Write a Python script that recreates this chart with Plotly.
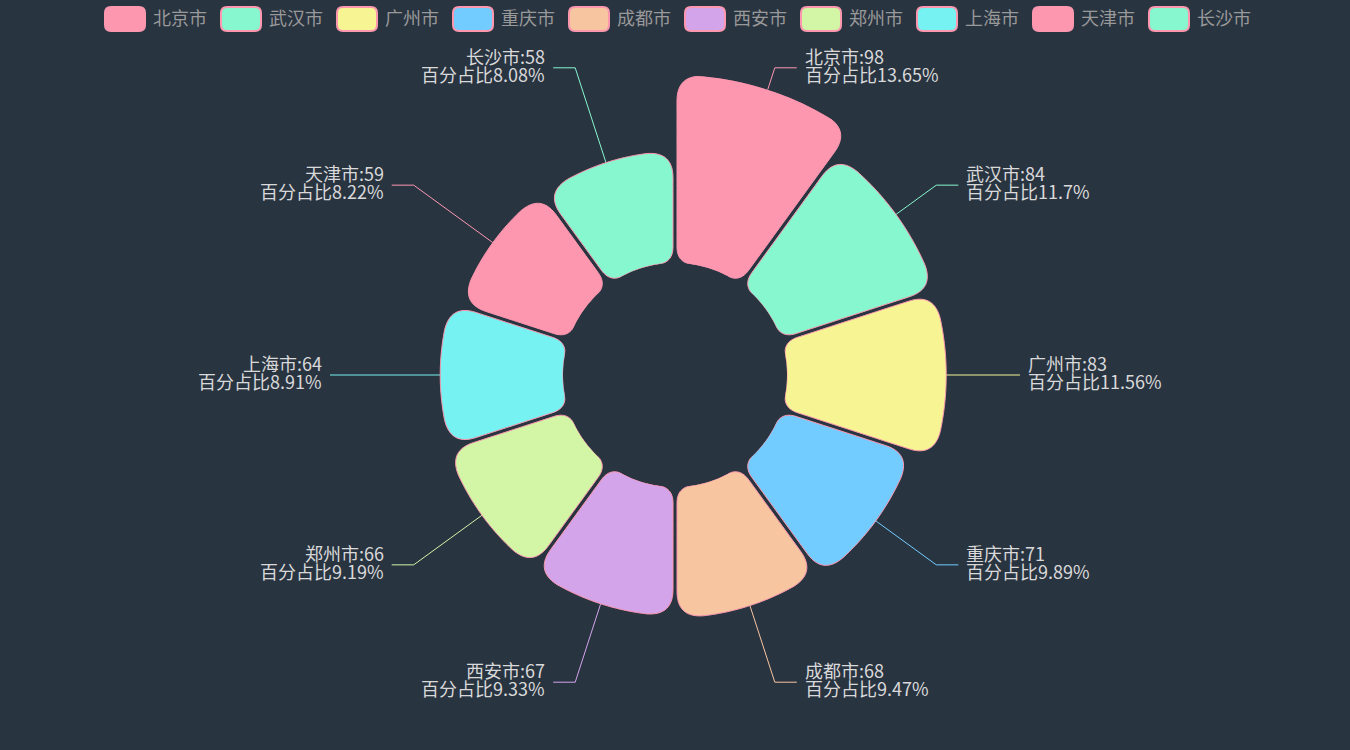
import math
import plotly.graph_objects as go

# ---- data ----
cities = ["北京市", "武汉市", "广州市", "重庆市", "成都市", "西安市", "郑州市", "上海市", "天津市", "长沙市"]
values = [98, 84, 83, 71, 68, 67, 66, 64, 59, 58]
colors = ["#fc97af", "#87f7cf", "#f7f494", "#72ccff", "#f7c5a0",
          "#d4a4eb", "#d2f5a6", "#76f2f2", "#fc97af", "#87f7cf"]

# ---- geometry (pixels) ----
W, H = 1350, 750
CX, CY = 675, 375
R_IN, R_OUT = 112, 300      # radius ['30%', '80%']
GAP = 4                     # gap between petals
RC_OUT, RC_IN = 26, 16      # corner rounding
VMAX = max(values)
BORDER = "#fc97af"
BG = "#293441"
FONT = "Noto Sans CJK SC, Microsoft YaHei, sans-serif"

total = sum(values)
step = 2 * math.pi / len(values)


def px(rho, ang):
    # ang clockwise from top, y up
    return rho * math.sin(ang), rho * math.cos(ang)


def to_polar(pt):
    rho = math.hypot(pt[0], pt[1])
    r = max(0.0, (rho - R_IN) / (R_OUT - R_IN) * VMAX)
    return r, math.degrees(math.atan2(pt[0], pt[1]))


def bez(p0, c, p2, n=14):
    out = []
    for k in range(1, n + 1):
        t = k / n
        a, b, d = (1 - t) ** 2, 2 * (1 - t) * t, t * t
        out.append((a * p0[0] + b * c[0] + d * p2[0], a * p0[1] + b * c[1] + d * p2[1]))
    return out


def arc(rho, a0, a1, n=40):
    return [px(rho, a0 + (a1 - a0) * k / n) for k in range(1, n + 1)]


def line(p0, p1, n=10):
    return [(p0[0] + (p1[0] - p0[0]) * k / n, p0[1] + (p1[1] - p0[1]) * k / n) for k in range(1, n + 1)]


def petal(t0, t1, ro, ri):
    h = GAP / 2
    ea = lambda rho: t0 + math.asin(h / rho)
    eb = lambda rho: t1 - math.asin(h / rho)
    rco = min(RC_OUT, (ro - ri) / 2.5)
    rci = min(RC_IN, (ro - ri) / 3)
    p_start = px(ro - rco, ea(ro - rco))
    pts = [p_start]
    a_o0, a_o1 = ea(ro) + rco / ro, eb(ro) - rco / ro
    pts += bez(p_start, px(ro, ea(ro)), px(ro, a_o0))
    pts += arc(ro, a_o0, a_o1)
    p_b0 = px(ro - rco, eb(ro - rco))
    pts += bez(pts[-1], px(ro, eb(ro)), p_b0)
    p_b1 = px(ri + rci, eb(ri + rci))
    pts += line(p_b0, p_b1)
    a_i1, a_i0 = eb(ri) - rci / ri, ea(ri) + rci / ri
    pts += bez(p_b1, px(ri, eb(ri)), px(ri, a_i1))
    pts += arc(ri, a_i1, a_i0, 20)
    p_a1 = px(ri + rci, ea(ri + rci))
    pts += bez(pts[-1], px(ri, ea(ri)), p_a1)
    pts += line(p_a1, p_start)
    return pts


fig = go.Figure()

# petals
for i, (name, v, col) in enumerate(zip(cities, values, colors)):
    ro = R_IN + (R_OUT - R_IN) * v / VMAX
    pts = [to_polar(p) for p in petal(i * step, (i + 1) * step, ro, R_IN)]
    fig.add_trace(go.Scatterpolar(
        r=[p[0] for p in pts], theta=[p[1] for p in pts],
        mode="lines", fill="toself", fillcolor=col,
        line=dict(color=BORDER, width=1), name=name,
        showlegend=False, hoverinfo="skip",
    ))

# label leader lines + texts
annotations = []
for i, (name, v, col) in enumerate(zip(cities, values, colors)):
    mid = (i + 0.5) * step
    ro = R_IN + (R_OUT - R_IN) * v / VMAX
    sx, sy = CX + ro * math.sin(mid), CY - ro * math.cos(mid)
    bx, by = CX + 323 * math.sin(mid), CY - 323 * math.cos(mid)
    side = 1 if math.sin(mid) >= -1e-9 else -1
    ex = bx + side * 22
    fig.add_trace(go.Scatter(
        x=[sx, bx, ex], y=[sy, by, by], mode="lines",
        line=dict(color=col, width=1), showlegend=False, hoverinfo="skip",
        xaxis="x", yaxis="y",
    ))
    pct = round(v / total * 100, 2)
    for txt, dy in ((f"{name}:{v}", -12), (f"百分占比{pct:g}%", 6)):
        annotations.append(dict(
            x=ex + side * 6, y=by + dy, xref="x", yref="y", text=txt,
            showarrow=False, xanchor="left" if side > 0 else "right", yanchor="middle",
            font=dict(size=18, color="#d9d9d9", family=FONT),
        ))

# legend (top, centered)
shapes = []
pitch = 116
lx0 = W / 2 - (pitch * len(cities) - 16) / 2
for i, (name, col) in enumerate(zip(cities, colors)):
    x0, y0, w, hh, rr = lx0 + i * pitch + 2, 7, 40, 24, 6
    x1, y1 = x0 + w, y0 + hh
    path = (f"M{x0 + rr},{y0} L{x1 - rr},{y0} Q{x1},{y0} {x1},{y0 + rr} "
            f"L{x1},{y1 - rr} Q{x1},{y1} {x1 - rr},{y1} L{x0 + rr},{y1} "
            f"Q{x0},{y1} {x0},{y1 - rr} L{x0},{y0 + rr} Q{x0},{y0} {x0 + rr},{y0} Z")
    shapes.append(dict(type="path", path=path, xref="x", yref="y",
                       fillcolor=col, line=dict(color=BORDER, width=2)))
    annotations.append(dict(
        x=x1 + 6, y=y0 + hh / 2 - 2, xref="x", yref="y", text=name, showarrow=False,
        xanchor="left", yanchor="middle", font=dict(size=18, color="#999999", family=FONT),
    ))

fig.update_layout(
    width=W, height=H,
    margin=dict(l=0, r=0, t=0, b=0),
    paper_bgcolor=BG, plot_bgcolor="rgba(0,0,0,0)",
    showlegend=False,
    polar=dict(
        domain=dict(x=[(CX - R_OUT) / W, (CX + R_OUT) / W], y=[(H - CY - R_OUT) / H, (H - CY + R_OUT) / H]),
        bgcolor="rgba(0,0,0,0)", hole=R_IN / R_OUT,
        radialaxis=dict(range=[0, VMAX], visible=False),
        angularaxis=dict(visible=False, direction="clockwise", rotation=90),
    ),
    xaxis=dict(range=[0, W], visible=False, fixedrange=True, domain=[0, 1]),
    yaxis=dict(range=[H, 0], visible=False, fixedrange=True, domain=[0, 1]),
    shapes=shapes,
    annotations=annotations,
)

fig.write_html("out.html", config={"displayModeBar": False},
               post_script="document.body.style.margin='0';")
